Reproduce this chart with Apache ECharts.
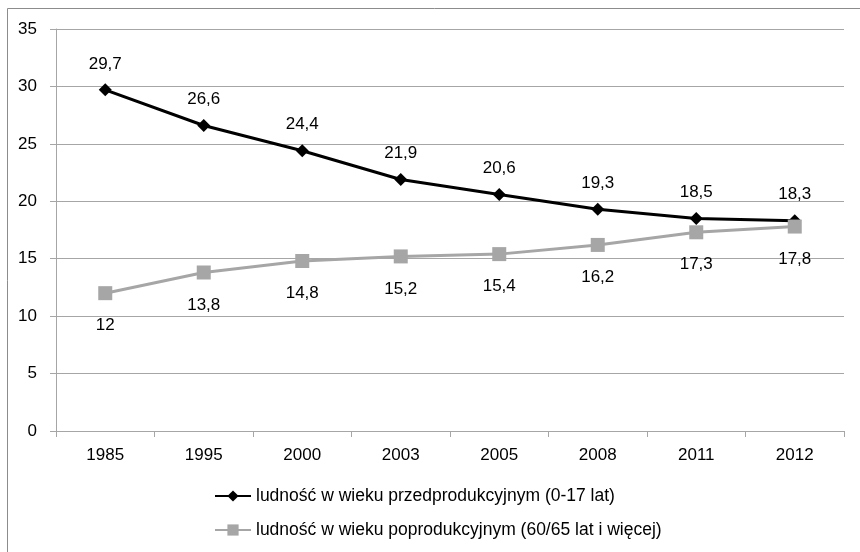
<!DOCTYPE html>
<html>
<head>
    <meta charset="UTF-8">
    <title>Ludność</title>
    <script src="https://cdn.jsdelivr.net/npm/echarts@6/dist/echarts.min.js"></script>
</head>
<body style="margin: 0; background: #fff">
    <div id="container" style="width: 860px; height: 552px"></div>
    <script type="text/javascript">
        // dane
        var years = ['1985', '1995', '2000', '2003', '2005', '2008', '2011', '2012'];
        var przed = [29.7, 26.6, 24.4, 21.9, 20.6, 19.3, 18.5, 18.3];
        var po = [12, 13.8, 14.8, 15.2, 15.4, 16.2, 17.3, 17.8];
        var names = ['ludność w wieku przedprodukcyjnym (0-17 lat)', 'ludność w wieku poprodukcyjnym (60/65 lat i więcej)'];

        var font = 'Liberation Sans';
        var fmt = function (p) {
            return String(p.value).replace('.', ',');
        };

        var myChart = echarts.init(document.getElementById('container'));
        var option = {
            animation: false,
            textStyle: { fontFamily: font },
            graphic: [{
                type: 'rect',
                shape: { x: 7.5, y: 8.5, width: 900, height: 600 },
                style: { fill: 'none', stroke: '#8c8c8c', lineWidth: 1 },
                silent: true
            }],
            grid: { left: 56, right: 16, top: 29, bottom: 121, containLabel: false },
            legend: {
                orient: 'vertical',
                left: 209,
                top: 482,
                itemWidth: 36,
                itemHeight: 14,
                itemGap: 16,
                textStyle: { fontFamily: font, fontSize: 17.5, color: '#000' },
                data: names
            },
            xAxis: {
                type: 'category',
                data: years,
                boundaryGap: true,
                axisLine: { lineStyle: { color: '#a6a6a6', width: 1 } },
                axisTick: { show: true, length: 6, lineStyle: { color: '#a6a6a6' } },
                axisLabel: { color: '#000', fontSize: 17, margin: 16 }
            },
            yAxis: {
                type: 'value',
                min: 0,
                max: 35,
                interval: 5,
                axisLine: { show: true, lineStyle: { color: '#a6a6a6', width: 1 } },
                axisTick: { show: true, length: 6, lineStyle: { color: '#a6a6a6' } },
                axisLabel: { color: '#000', fontSize: 17, margin: 19 },
                splitLine: { lineStyle: { color: '#a6a6a6', width: 1 } }
            },
            series: [{
                name: names[0],
                type: 'line',
                data: przed,
                symbol: 'diamond',
                symbolSize: 13,
                itemStyle: { color: '#000' },
                lineStyle: { color: '#000', width: 3 },
                label: {
                    show: true,
                    position: 'top',
                    distance: 11,
                    color: '#000',
                    fontSize: 17,
                    formatter: fmt
                }
            }, {
                name: names[1],
                type: 'line',
                data: po,
                symbol: 'rect',
                symbolSize: 14,
                itemStyle: { color: '#a6a6a6' },
                lineStyle: { color: '#a6a6a6', width: 3 },
                label: {
                    show: true,
                    position: 'bottom',
                    distance: 17,
                    color: '#000',
                    fontSize: 17,
                    formatter: fmt
                }
            }]
        };
        myChart.setOption(option);
    </script>
</body>
</html>
